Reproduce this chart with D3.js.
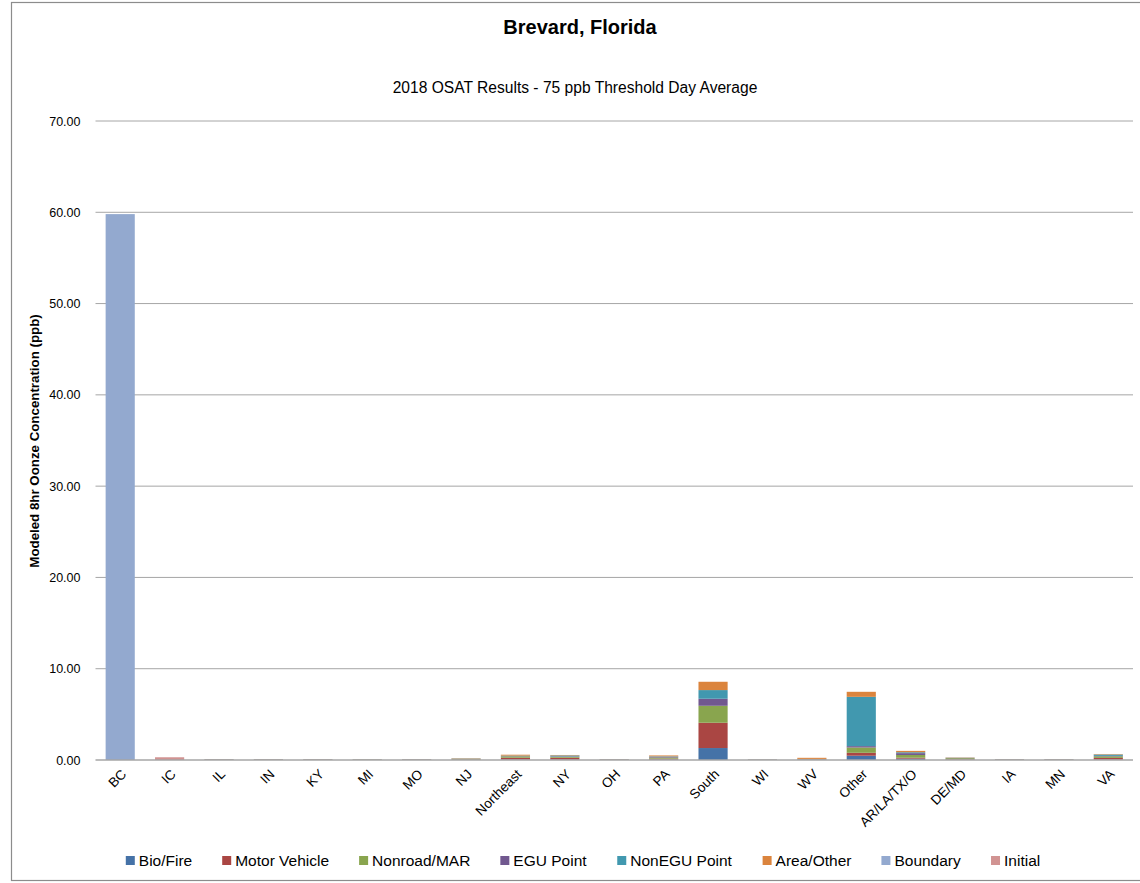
<!DOCTYPE html>
<html>
<head>
<meta charset="utf-8">
<script src="https://cdn.jsdelivr.net/npm/d3@7"></script>
<style>
  body { margin: 0; background: #fff; }
  text { font-family: "Liberation Sans", Arial, sans-serif; fill: #000; }
</style>
</head>
<body>
<div id="chart"></div>
<script>
// categories along the x axis
var regions = ["BC", "IC", "IL", "IN", "KY", "MI", "MO", "NJ", "Northeast", "NY", "OH", "PA",
               "South", "WI", "WV", "Other", "AR/LA/TX/O", "DE/MD", "IA", "MN", "VA"];

var sources = ["Bio/Fire", "Motor Vehicle", "Nonroad/MAR", "EGU Point", "NonEGU Point",
               "Area/Other", "Boundary", "Initial"];

var sourceColors = ["#4572A7", "#AA4643", "#89A54E", "#71588F", "#4198AF", "#DB843D", "#93A9CF", "#D19392"];

// contribution of each source, one value per region (ppb)
var bioFire      = [0, 0, 0.02, 0.02, 0.02, 0.02, 0.02, 0.03, 0.05, 0.05, 0.02, 0.05, 1.31, 0.02, 0.02, 0.47, 0.15, 0.03, 0.02, 0.02, 0.05];
var motorVehicle = [0, 0, 0.02, 0.02, 0.02, 0.02, 0.02, 0.04, 0.20, 0.20, 0.02, 0.10, 2.77, 0.01, 0.03, 0.32, 0.10, 0.05, 0.02, 0.02, 0.18];
var nonroadMAR   = [0, 0, 0.02, 0.02, 0.02, 0.02, 0.02, 0.06, 0.15, 0.10, 0.02, 0.12, 1.86, 0.02, 0.03, 0.58, 0.30, 0.12, 0.02, 0.02, 0.17];
var eguPoint     = [0, 0, 0.02, 0.02, 0.02, 0.01, 0.02, 0.02, 0.03, 0.05, 0.02, 0.08, 0.77, 0.01, 0.02, 0.15, 0.20, 0.03, 0.02, 0.02, 0.05];
var nonEguPoint  = [0, 0, 0.01, 0.01, 0.01, 0.01, 0.01, 0.02, 0.05, 0.10, 0.01, 0.05, 0.95, 0.01, 0.02, 5.40, 0.10, 0.02, 0.01, 0.01, 0.15];
var areaOther    = [0, 0, 0.01, 0.01, 0.01, 0.01, 0.01, 0.03, 0.10, 0.05, 0.01, 0.10, 0.91, 0.01, 0.12, 0.55, 0.15, 0.03, 0.01, 0.01, 0.05];
var boundary     = [59.8, 0, 0, 0, 0, 0, 0, 0, 0, 0, 0, 0, 0, 0, 0, 0, 0, 0, 0, 0, 0];
var initial      = [0, 0.3, 0, 0, 0, 0, 0, 0, 0, 0, 0, 0, 0, 0, 0, 0, 0, 0, 0, 0, 0];

var yTicks = [0, 10, 20, 30, 40, 50, 60, 70];

var chartTitle = "Brevard, Florida";
var chartSubtitle = "2018 OSAT Results - 75 ppb Threshold Day Average";
var yLabel = "Modeled 8hr Oonze Concentration (ppb)";

var series = [bioFire, motorVehicle, nonroadMAR, eguPoint, nonEguPoint, areaOther, boundary, initial];

// build rows for d3.stack
var rows = regions.map(function(r, i) {
    var row = { region: r };
    sources.forEach(function(s, j) { row[s] = series[j][i]; });
    return row;
});

var width = 1140, height = 883;
var margin = { top: 121, right: 7, bottom: 123, left: 95.5 };
var plotW = width - margin.left - margin.right;
var plotH = height - margin.top - margin.bottom;

var svg = d3.select("#chart").append("svg")
    .attr("width", width)
    .attr("height", height);

// outer chart border (right edge falls outside the picture)
svg.append("rect")
    .attr("x", 11.5).attr("y", 2.5)
    .attr("width", width + 10).attr("height", 878)
    .attr("fill", "none")
    .attr("stroke", "#8c8c8c")
    .attr("stroke-width", 1.2);

svg.append("text")
    .attr("x", 580).attr("y", 34)
    .attr("text-anchor", "middle")
    .style("font-size", "20px")
    .style("font-weight", "bold")
    .text(chartTitle);

svg.append("text")
    .attr("x", 575).attr("y", 93)
    .attr("text-anchor", "middle")
    .style("font-size", "15.6px")
    .text(chartSubtitle);

var g = svg.append("g").attr("transform", "translate(" + margin.left + "," + margin.top + ")");

var x = d3.scaleBand().domain(regions).range([0, plotW]).paddingInner(0.41).paddingOuter(0.205);
var y = d3.scaleLinear().domain([0, 70]).range([plotH, 0]);

// gridlines
g.selectAll(".grid").data(yTicks.slice(1)).enter().append("line")
    .attr("x1", 0).attr("x2", plotW)
    .attr("y1", function(d) { return y(d); })
    .attr("y2", function(d) { return y(d); })
    .attr("stroke", "#a6a6a6")
    .attr("stroke-width", 1);

// y axis labels
var yAxis = d3.axisLeft(y).tickValues(yTicks).tickFormat(d3.format(".2f")).tickSize(0).tickPadding(15);
var ya = g.append("g").call(yAxis);
ya.select(".domain").remove();
ya.selectAll("text")
    .style("font-family", "'Liberation Sans', Arial, sans-serif")
    .style("font-size", "12.5px")
    .attr("fill", "#000");

var stack = d3.stack().keys(sources);
var layers = stack(rows);

g.selectAll(".layer").data(layers).enter().append("g")
    .attr("fill", function(d, i) { return sourceColors[i]; })
  .selectAll("rect").data(function(d) { return d; }).enter().append("rect")
    .attr("x", function(d) { return x(d.data.region); })
    .attr("width", x.bandwidth())
    .attr("y", function(d) { return y(d[1]); })
    .attr("height", function(d) { return Math.max(0, y(d[0]) - y(d[1])); });

// x axis line
g.append("line")
    .attr("x1", 0).attr("x2", plotW)
    .attr("y1", plotH).attr("y2", plotH)
    .attr("stroke", "#a6a6a6")
    .attr("stroke-width", 1.5);

// category labels, rotated
g.selectAll(".xlab").data(regions).enter().append("text")
    .attr("text-anchor", "end")
    .style("font-size", "13.5px")
    .attr("transform", function(d) {
        var cx = x(d) + x.bandwidth() / 2 + 7;
        return "translate(" + cx + "," + (plotH + 15) + ") rotate(-45)";
    })
    .text(function(d) { return d; });

// y axis title
svg.append("text")
    .attr("transform", "translate(39,441) rotate(-90)")
    .attr("text-anchor", "middle")
    .style("font-size", "13.3px")
    .style("font-weight", "bold")
    .text(yLabel);

// legend
var legend = svg.append("g");
var lx = 0;
var items = legend.selectAll(".leg").data(sources).enter().append("g");
items.append("rect")
    .attr("width", 9).attr("height", 9)
    .attr("y", -10)
    .attr("fill", function(d, i) { return sourceColors[i]; });
items.append("text")
    .attr("x", 13)
    .style("font-size", "15.5px")
    .text(function(d) { return d; });
items.each(function() {
    var w = this.getBBox().width;
    d3.select(this).attr("transform", "translate(" + lx + ",0)");
    lx += w + 30;
});
lx -= 30;
legend.attr("transform", "translate(" + (583 - lx / 2) + ",866)");
</script>
</body>
</html>
